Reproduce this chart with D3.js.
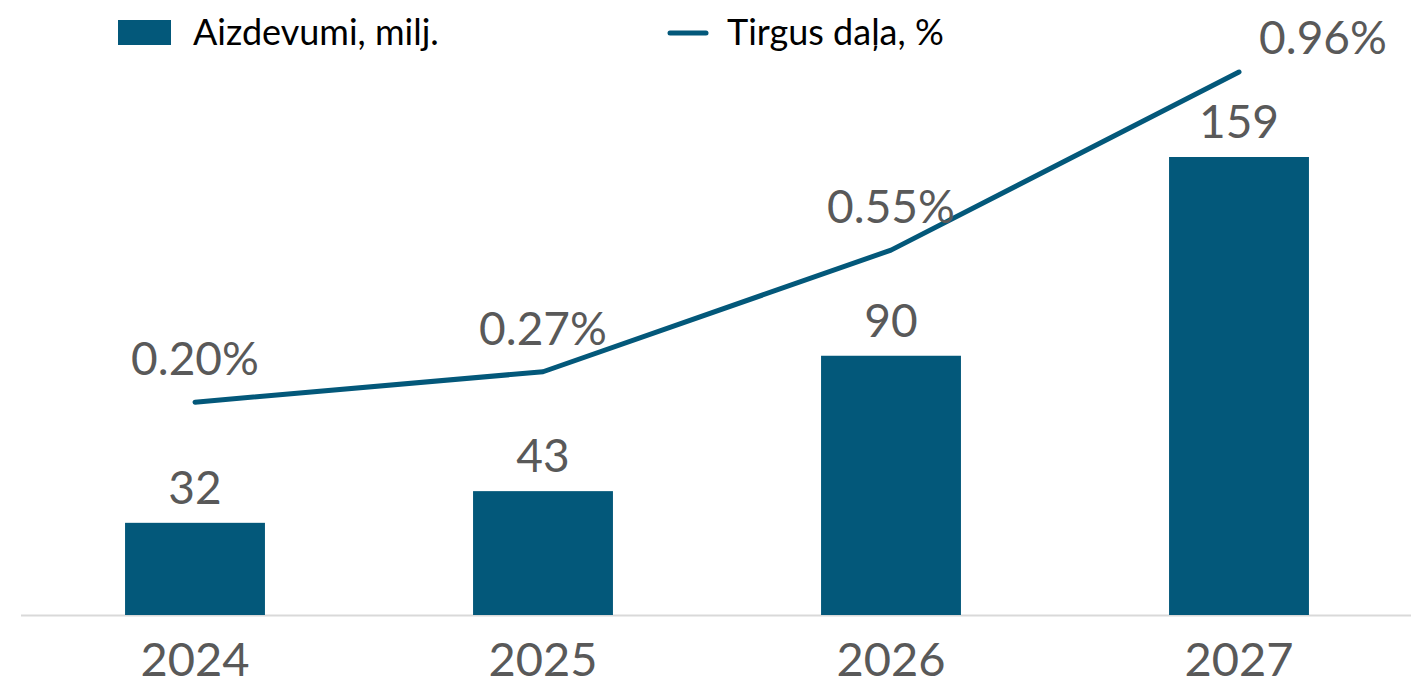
<!DOCTYPE html>
<html>
<head>
<meta charset="utf-8">
<script src="https://cdn.jsdelivr.net/npm/d3@7"></script>
<style>
  html, body { margin: 0; padding: 0; background: #ffffff; }
  svg { display: block; }
  text { font-family: Lato, "Open Sans", sans-serif; }
</style>
</head>
<body>
<svg id="chart" width="1411" height="687"></svg>
<script>
// Data
const years = ["2024", "2025", "2026", "2027"];
const loans = [32, 43, 90, 159];            // Aizdevumi, milj.
const share = [0.20, 0.27, 0.55, 0.96];     // Tirgus daļa, %
const legendLabels = ["Aizdevumi, milj.", "Tirgus daļa, %"];

const W = 1411, H = 687;
const barColor = "#03587a";
const textGray = "#595959";

const svg = d3.select("#chart");

const x = d3.scaleBand()
  .domain(years)
  .range([21, 1413])
  .paddingInner(0.598)
  .paddingOuter(0.299);

const yBar = d3.scaleLinear().domain([0, 159]).range([615, 157]);
const yLine = d3.scaleLinear().domain([-0.29, 0.96]).range([615, 72]);

// Baseline axis
svg.append("line")
  .attr("x1", 21).attr("x2", W)
  .attr("y1", 615.5).attr("y2", 615.5)
  .attr("stroke", "#d9d9d9").attr("stroke-width", 2);

// Bars
svg.selectAll("rect.bar")
  .data(years)
  .join("rect")
  .attr("class", "bar")
  .attr("x", d => x(d))
  .attr("width", x.bandwidth())
  .attr("y", (d, i) => yBar(loans[i]))
  .attr("height", (d, i) => yBar(0) - yBar(loans[i]))
  .attr("fill", barColor);

// Bar value labels
svg.selectAll("text.barlbl")
  .data(years)
  .join("text")
  .attr("class", "barlbl")
  .attr("x", d => x(d) + x.bandwidth() / 2)
  .attr("y", (d, i) => yBar(loans[i]) - 19)
  .attr("text-anchor", "middle")
  .attr("font-size", 46)
  .attr("fill", textGray)
  .text((d, i) => loans[i]);

// Market share line
const pts = years.map((d, i) => [x(d) + x.bandwidth() / 2, yLine(share[i])]);
svg.append("path")
  .attr("d", d3.line()(pts))
  .attr("fill", "none")
  .attr("stroke", barColor)
  .attr("stroke-width", 5)
  .attr("stroke-linecap", "round")
  .attr("stroke-linejoin", "round");

// Line value labels
svg.selectAll("text.linelbl")
  .data(years)
  .join("text")
  .attr("class", "linelbl")
  .attr("x", (d, i) => pts[i][0] + (i === years.length - 1 ? 84 : 0))
  .attr("y", (d, i) => pts[i][1] - (i === years.length - 1 ? 18 : 27))
  .attr("text-anchor", "middle")
  .attr("font-size", 46)
  .attr("fill", textGray)
  .text((d, i) => share[i].toFixed(2) + "%");

// Category axis labels
svg.selectAll("text.year")
  .data(years)
  .join("text")
  .attr("class", "year")
  .attr("x", d => x(d) + x.bandwidth() / 2)
  .attr("y", 676)
  .attr("text-anchor", "middle")
  .attr("font-size", 47)
  .attr("fill", textGray)
  .text(d => d);

// Legend
const lg = svg.append("g");
lg.append("rect")
  .attr("x", 118).attr("y", 20).attr("width", 53).attr("height", 25)
  .attr("fill", barColor);
lg.append("text")
  .attr("x", 193).attr("y", 45)
  .attr("font-size", 36)
  .attr("fill", "#000")
  .text(legendLabels[0]);
lg.append("line")
  .attr("x1", 670).attr("x2", 706).attr("y1", 33).attr("y2", 33)
  .attr("stroke", barColor).attr("stroke-width", 5)
  .attr("stroke-linecap", "round");
lg.append("text")
  .attr("x", 727).attr("y", 45)
  .attr("font-size", 36)
  .attr("fill", "#000")
  .text(legendLabels[1]);
</script>
</body>
</html>
